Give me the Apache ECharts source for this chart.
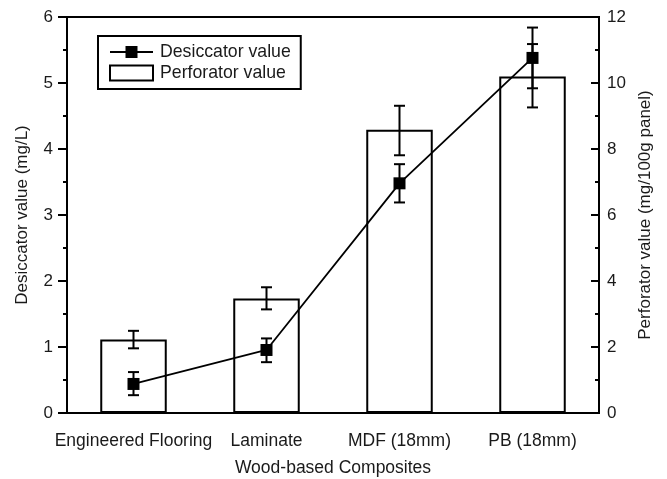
<!DOCTYPE html>
<html>
<head>
<meta charset="utf-8">
<script src="https://cdn.jsdelivr.net/npm/echarts@6/dist/echarts.min.js"></script>
<style>
html,body{margin:0;padding:0;background:#fff;}
#chart{width:667px;height:479px;}
</style>
</head>
<body>
<div id="chart"></div>
<script>
var categories = ['Engineered Flooring', 'Laminate', 'MDF (18mm)', 'PB (18mm)'];
var desiccator = [0.44, 0.955, 3.48, 5.38];
var desiccatorLow = [0.27, 0.77, 3.19, 4.92];
var desiccatorHigh = [0.62, 1.13, 3.77, 5.59];
var perforator = [2.23, 3.47, 8.58, 10.2];
var perforatorLow = [1.96, 3.14, 7.81, 9.26];
var perforatorHigh = [2.49, 3.81, 9.31, 11.68];
var leftTicks = [0, 1, 2, 3, 4, 5, 6];
var rightTicks = [0, 2, 4, 6, 8, 10, 12];

var FONT = 'Liberation Sans, Arial, Helvetica, sans-serif';
var TXT = '#1a1a1a';

function errData(lo, hi) {
  return lo.map(function (v, i) { return [i, v, hi[i]]; });
}
function renderErr(params, api) {
  var x = api.value(0);
  var lo = api.coord([x, api.value(1)]);
  var hi = api.coord([x, api.value(2)]);
  var h = 5.5;
  var st = { stroke: '#000', lineWidth: 2 };
  return {
    type: 'group',
    children: [
      { type: 'line', shape: { x1: lo[0], y1: lo[1], x2: hi[0], y2: hi[1] }, style: st },
      { type: 'line', shape: { x1: lo[0] - h, y1: lo[1], x2: lo[0] + h, y2: lo[1] }, style: st },
      { type: 'line', shape: { x1: hi[0] - h, y1: hi[1], x2: hi[0] + h, y2: hi[1] }, style: st }
    ]
  };
}

var chart = echarts.init(document.getElementById('chart'), null, { renderer: 'canvas' });
chart.setOption({
  animation: false,
  backgroundColor: '#fff',
  textStyle: { fontFamily: FONT, color: TXT },
  grid: { left: 67, right: 68, top: 17, bottom: 66, show: true, borderColor: '#000', borderWidth: 2, containLabel: false, outerBoundsMode: 'none' },
  legend: {
    data: [
      { name: 'Desiccator value' },
      { name: 'Perforator value', icon: 'rect' }
    ],
    orient: 'vertical',
    left: 98, top: 36,
    padding: [7, 10, 7, 11],
    borderColor: '#000', borderWidth: 2,
    itemWidth: 43, itemHeight: 15, itemGap: 3,
    textStyle: { fontFamily: FONT, fontSize: 17.7, color: TXT, padding: [0, 0, 0, 2] },
    selectedMode: false
  },
  xAxis: {
    type: 'category',
    data: categories,
    boundaryGap: true,
    name: 'Wood-based Composites',
    nameLocation: 'middle',
    nameGap: 46,
    nameTextStyle: { fontFamily: FONT, fontSize: 17.5, color: TXT },
    axisLine: { lineStyle: { color: '#000', width: 2 } },
    axisTick: { alignWithLabel: true, length: 7, lineStyle: { color: '#000', width: 2 } },
    axisLabel: { fontFamily: FONT, fontSize: 17.5, color: TXT, margin: 19, interval: 0 },
    splitLine: { show: false }
  },
  yAxis: [
    {
      type: 'value', position: 'left', min: 0, max: 6, interval: 1,
      name: 'Desiccator value (mg/L)',
      nameLocation: 'middle', nameGap: 36,
      nameTextStyle: { fontFamily: FONT, fontSize: 17, color: TXT },
      axisLine: { show: true, lineStyle: { color: '#000', width: 2 } },
      axisTick: { show: true, length: 9, lineStyle: { color: '#000', width: 2 } },
      minorTick: { show: true, splitNumber: 2, length: 4, lineStyle: { color: '#000', width: 2 } },
      axisLabel: { fontFamily: FONT, fontSize: 17, color: TXT, margin: 14,
        formatter: function (v) { return leftTicks.indexOf(v) >= 0 ? String(v) : ''; } },
      splitLine: { show: false }
    },
    {
      type: 'value', position: 'right', min: 0, max: 12, interval: 2,
      name: 'Perforator value (mg/100g panel)',
      nameLocation: 'middle', nameGap: 38,
      nameTextStyle: { fontFamily: FONT, fontSize: 17, color: TXT },
      axisLine: { show: true, lineStyle: { color: '#000', width: 2 } },
      axisTick: { show: true, inside: true, length: 8, lineStyle: { color: '#000', width: 2 } },
      minorTick: { show: true, splitNumber: 2, length: 4, lineStyle: { color: '#000', width: 2 } },
      axisLabel: { fontFamily: FONT, fontSize: 17, color: TXT, margin: 8,
        formatter: function (v) { return rightTicks.indexOf(v) >= 0 ? String(v) : ''; } },
      splitLine: { show: false }
    }
  ],
  series: [
    {
      name: 'Perforator value',
      type: 'bar',
      yAxisIndex: 1,
      data: perforator,
      barWidth: '50%',
      itemStyle: { color: '#fff', borderColor: '#000', borderWidth: 2 },
      z: 2
    },
    {
      name: 'Perforator error',
      type: 'custom',
      yAxisIndex: 1,
      data: errData(perforatorLow, perforatorHigh),
      encode: { x: 0, y: [1, 2] },
      renderItem: renderErr,
      z: 3
    },
    {
      name: 'Desiccator error',
      type: 'custom',
      yAxisIndex: 0,
      data: errData(desiccatorLow, desiccatorHigh),
      encode: { x: 0, y: [1, 2] },
      renderItem: renderErr,
      z: 3
    },
    {
      name: 'Desiccator value',
      type: 'line',
      yAxisIndex: 0,
      data: desiccator,
      symbol: 'rect',
      symbolSize: 12,
      lineStyle: { color: '#000', width: 1.8 },
      itemStyle: { color: '#000' },
      z: 4
    }
  ]
});
</script>
</body>
</html>
